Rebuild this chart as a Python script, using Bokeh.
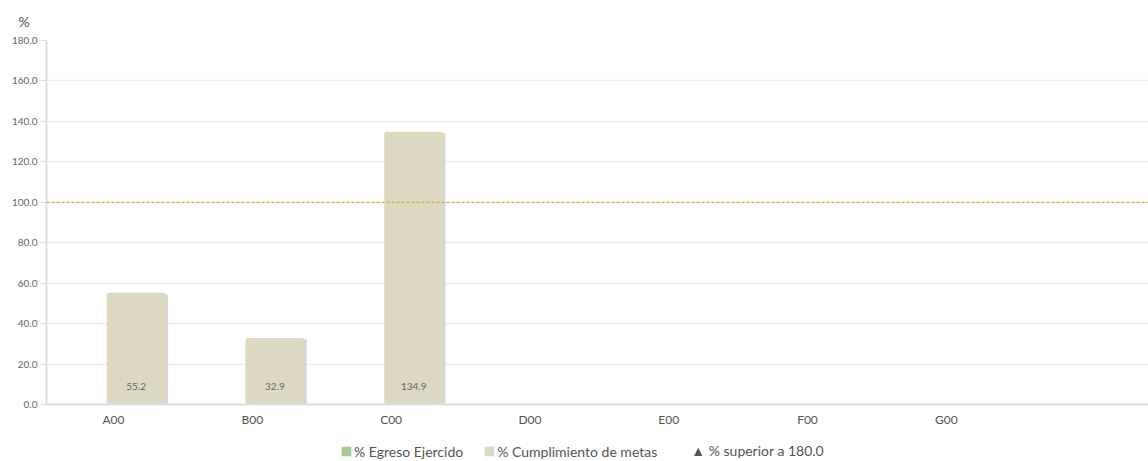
import numpy as np
from bokeh.plotting import figure
from bokeh.layouts import column
from bokeh.models import (ColumnDataSource, Range1d, FixedTicker, NumeralTickFormatter,
                          Span, Legend, LegendItem)
from bokeh.core.properties import value
from bokeh.embed import file_html
from bokeh.resources import INLINE

categories = ["A00", "B00", "C00", "D00", "E00", "F00", "G00"]
egreso = [np.nan] * 7
cumplimiento = [55.2, 32.9, 134.9, np.nan, np.nan, np.nan, np.nan]
meta = 100.0
y_ticks = [0, 20, 40, 60, 80, 100, 120, 140, 160, 180]
legend_labels = ["% Egreso Ejercido", "% Cumplimiento de metas", "▲ % superior a 180.0"]

FONT = "Lato"
BEIGE = "#dcd8c2"
GREEN = "#a9ca93"

idx = np.arange(len(categories))
off = 0.163
bw = 0.425
vals = np.array(cumplimiento, dtype=float)
has = ~np.isnan(vals)

src = ColumnDataSource(dict(
    x=(idx + off)[has], top=vals[has],
    lab=[f"{v:.1f}" for v in vals[has]],
))
shadow_src = ColumnDataSource(dict(x=(idx + off)[has] + 0.016, top=vals[has] - 0.8))

p = figure(frame_width=1102, frame_height=364, output_backend="svg", toolbar_location=None,
           x_range=Range1d(-0.483, 7.457), y_range=Range1d(0, 180),
           min_border_left=46, min_border_right=0, min_border_top=0, min_border_bottom=0,
           title="%")
p.outline_line_color = None
p.background_fill_color = "white"
p.border_fill_color = "white"

p.title.text_font = FONT
p.title.text_font_size = "14px"
p.title.text_font_style = "normal"
p.title.text_color = "#555555"
p.title.align = "left"
p.title.offset = -28
p.title.standoff = 21

# y axis
p.yaxis.ticker = FixedTicker(ticks=y_ticks)
p.yaxis.formatter = NumeralTickFormatter(format="0.0")
p.yaxis.axis_line_color = "#dddddd"
p.yaxis.axis_line_width = 2
p.yaxis.major_tick_line_color = "#dddddd"
p.yaxis.major_tick_out = 6
p.yaxis.major_tick_in = 0
p.yaxis.minor_tick_line_color = None
p.yaxis.major_label_text_font = FONT
p.yaxis.major_label_text_font_size = "10px"
p.yaxis.major_label_text_color = "#666666"
p.yaxis.major_label_standoff = 3

# x axis
p.xaxis.ticker = FixedTicker(ticks=list(idx))
p.xaxis.major_label_overrides = {int(i): c for i, c in zip(idx, categories)}
p.xaxis.axis_line_color = "#dddddd"
p.xaxis.axis_line_width = 2
p.xaxis.major_tick_line_color = None
p.xaxis.major_tick_out = 0
p.xaxis.major_tick_in = 0
p.xaxis.minor_tick_line_color = None
p.xaxis.major_label_text_font = FONT
p.xaxis.major_label_text_font_size = "12px"
p.xaxis.major_label_text_color = "#555555"
p.xaxis.major_label_standoff = 7

p.xgrid.grid_line_color = None
p.ygrid.grid_line_color = "#eeeeee"
p.ygrid.grid_line_width = 1.5
p.ygrid.ticker = FixedTicker(ticks=y_ticks)

# shadows and bars
p.vbar(x="x", top="top", width=bw, bottom=-0.8, source=shadow_src,
       fill_color="#bbbbbb", fill_alpha=0.6, line_color=None)
bars = p.vbar(x="x", top="top", width=bw, source=src, fill_color=BEIGE, line_color=None,
              border_radius=3)
p.text(x="x", y=0, text="lab", source=src, y_offset=-18, text_align="center",
       text_baseline="middle", text_font=value(FONT), text_font_size="10px",
       text_color="#666666")

p.add_layout(Span(location=meta, dimension="width", line_color="#d4a017",
                  line_width=1, line_dash="3 2"))

# legend figure
lf = figure(width=1148, height=32, output_backend="svg", toolbar_location=None,
            x_range=Range1d(0, 1), y_range=Range1d(0, 1),
            min_border_left=0, min_border_right=0, min_border_top=0, min_border_bottom=0)
lf.axis.visible = False
lf.grid.visible = False
lf.outline_line_color = None
dummy = ColumnDataSource(dict(x=[np.nan], top=[np.nan]))
g1 = lf.vbar(x="x", top="top", width=0.1, source=dummy, fill_color=GREEN, line_color=None)
g2 = lf.vbar(x="x", top="top", width=0.1, source=dummy, fill_color=BEIGE, line_color=None)
g3 = lf.scatter(x="x", y="top", source=dummy, marker="triangle", size=10,
                fill_alpha=0, line_alpha=0)
legend = Legend(items=[LegendItem(label=legend_labels[0], renderers=[g1]),
                       LegendItem(label=legend_labels[1], renderers=[g2]),
                       LegendItem(label=legend_labels[2], renderers=[g3])],
                orientation="horizontal", location=(294, 1),
                label_text_font=FONT, label_text_font_size="14px",
                label_text_color="#555555", glyph_width=12, glyph_height=12,
                label_height=14, label_standoff=2, spacing=20, padding=0, margin=0,
                border_line_color=None, background_fill_alpha=0)
lf.add_layout(legend, "center")

layout = column(p, lf, spacing=0)
open("out.html", "w").write(file_html(layout, INLINE))
